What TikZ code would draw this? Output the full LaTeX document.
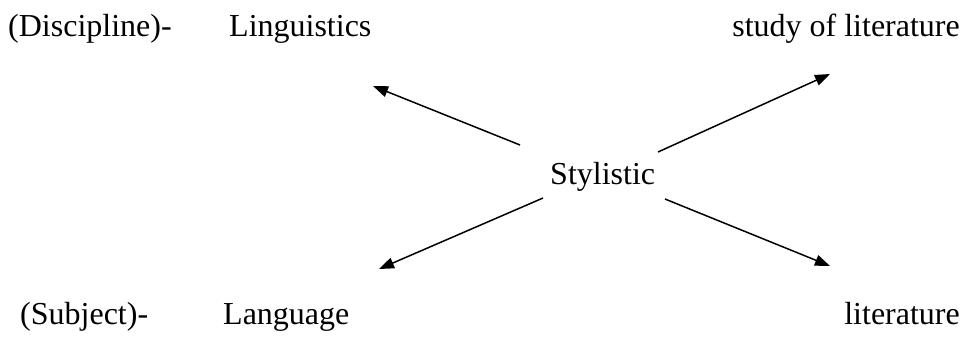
\documentclass[tikz,border=0pt]{standalone}
\usepackage{fontspec}
\setmainfont{Liberation Serif}
\usetikzlibrary{arrows.meta}
\begin{document}
\begin{tikzpicture}[x=1pt,y=-1pt,
  lbl/.style={inner sep=0pt,anchor=base west,font=\fontsize{32}{36}\selectfont},
  rlbl/.style={lbl,anchor=base east},
  arr/.style={line width=1.5pt,-{Triangle[length=15pt,width=11pt]}}]
\useasboundingbox (0,0) rectangle (968,338);
\node[lbl] (disc) at (8,36) {(Discipline)-};
\node[lbl] (ling) at (229,36) {Linguistics};
\node[rlbl] (stud) at (960,36) {study of literature};
\node[lbl] (sty) at (550,184) {Stylistic};
\node[lbl] (subj) at (20,324) {(Subject)-};
\node[lbl] (lang) at (223,324) {Language};
\node[rlbl] (lit) at (960,324) {literature};
\coordinate (s1) at (520,145);
\coordinate (t1) at (373,86);
\coordinate (s2) at (658,152);
\coordinate (t2) at (830,74);
\coordinate (s3) at (543,198);
\coordinate (t3) at (379,269);
\coordinate (s4) at (665,199);
\coordinate (t4) at (830,266);
\draw[arr] (s1) -- (t1);
\draw[arr] (s2) -- (t2);
\draw[arr] (s3) -- (t3);
\draw[arr] (s4) -- (t4);
\end{tikzpicture}
\end{document}
